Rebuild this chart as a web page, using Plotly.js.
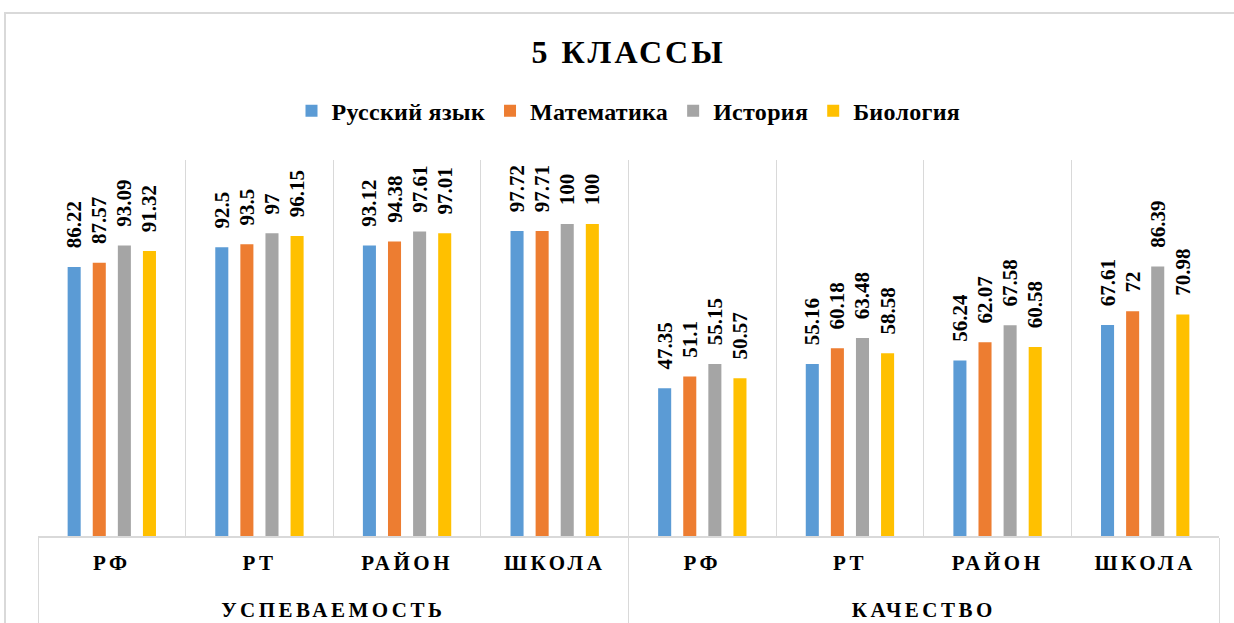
<!DOCTYPE html>
<html>
<head>
<meta charset="utf-8">
<script src="https://cdn.plot.ly/plotly-3.0.1.min.js"></script>
<style>
  html, body { margin: 0; padding: 0; background: #fff; }
  #chart { width: 1234px; height: 623px; }
  g.xaxislayer-above text { letter-spacing: 3.5px; }
  .legendtext { letter-spacing: 0.3px; }
  .gtitle { letter-spacing: 3px; }
</style>
</head>
<body>
<div id="chart"></div>
<script>
const groups = ['УСПЕВАЕМОСТЬ','УСПЕВАЕМОСТЬ','УСПЕВАЕМОСТЬ','УСПЕВАЕМОСТЬ','КАЧЕСТВО','КАЧЕСТВО','КАЧЕСТВО','КАЧЕСТВО'];
const subcats = ['РФ','РТ','РАЙОН','ШКОЛА','РФ','РТ','РАЙОН','ШКОЛА'];
const seriesNames = ['Русский язык','Математика','История','Биология'];
const russian = [86.22, 92.5, 93.12, 97.72, 47.35, 55.16, 56.24, 67.61];
const math    = [87.57, 93.5, 94.38, 97.71, 51.1, 60.18, 62.07, 72];
const history = [93.09, 97, 97.61, 100, 55.15, 63.48, 67.58, 86.39];
const biology = [91.32, 96.15, 97.01, 100, 50.57, 58.58, 60.58, 70.98];
const colors = ['#5b9bd5','#ed7d31','#a5a5a5','#ffc000'];

const FONT = '"Liberation Serif", "Times New Roman", serif';
const values = [russian, math, history, biology];

// second-level (group) labels are pushed one line lower to leave room for the first row
const groupLabels = groups.map(g => '<br>' + g);

const traces = values.map((v, i) => ({
  type: 'bar',
  name: seriesNames[i],
  x: [groupLabels, subcats],
  y: v,
  marker: { color: colors[i] },
  text: v.map(String),
  texttemplate: '\u00a0\u00a0\u00a0%{text}',
  textposition: 'outside',
  textangle: -90,
  constraintext: 'none',
  cliponaxis: false,
  outsidetextfont: { family: FONT, size: 21, color: '#000', weight: 'bold' },
  hoverinfo: 'skip'
}));

const layout = {
  width: 1234, height: 623,
  margin: { l: 38, r: 15, t: 160, b: 87 },
  paper_bgcolor: '#fff', plot_bgcolor: '#fff',
  barmode: 'group',
  bargap: 0.32,
  bargroupgap: 0.48,
  title: {
    text: '<b>5 КЛАССЫ</b>',
    font: { family: FONT, size: 32, color: '#000' },
    x: 0.5, xref: 'paper', xanchor: 'center',
    y: 1 - 52/623, yref: 'container', yanchor: 'middle'
  },
  legend: {
    orientation: 'h',
    x: 0.5, xanchor: 'center', xref: 'paper',
    y: 1.13, yanchor: 'middle',
    font: { family: FONT, size: 24, color: '#000', weight: 'bold' },
    itemclick: false, itemdoubleclick: false,
    traceorder: 'normal'
  },
  xaxis: {
    type: 'multicategory',
    tickson: 'boundaries',
    showgrid: true, gridcolor: '#d9d9d9', gridwidth: 1,
    showline: true, linecolor: '#d9d9d9', linewidth: 2,
    ticks: '',
    ticklabelstandoff: 7,
    showdividers: true, dividercolor: '#d9d9d9', dividerwidth: 1,
    tickfont: { family: FONT, size: 21, color: '#000', weight: 'bold' },
    fixedrange: true
  },
  yaxis: {
    range: [0, 120.5],
    showgrid: false, zeroline: false, showticklabels: false, showline: false,
    fixedrange: true
  },
  shapes: [{
    type: 'rect', xref: 'paper', yref: 'paper',
    x0: (5 - 38) / 1181, x1: (1300 - 38) / 1181,
    y0: (536 - 700) / 376, y1: (536 - 13) / 376,
    line: { color: '#d9d9d9', width: 2 }, fillcolor: 'rgba(0,0,0,0)', layer: 'below'
  }],
  showlegend: true
};

Plotly.newPlot('chart', traces, layout, { staticPlot: true, displayModeBar: false });
</script>
</body>
</html>
